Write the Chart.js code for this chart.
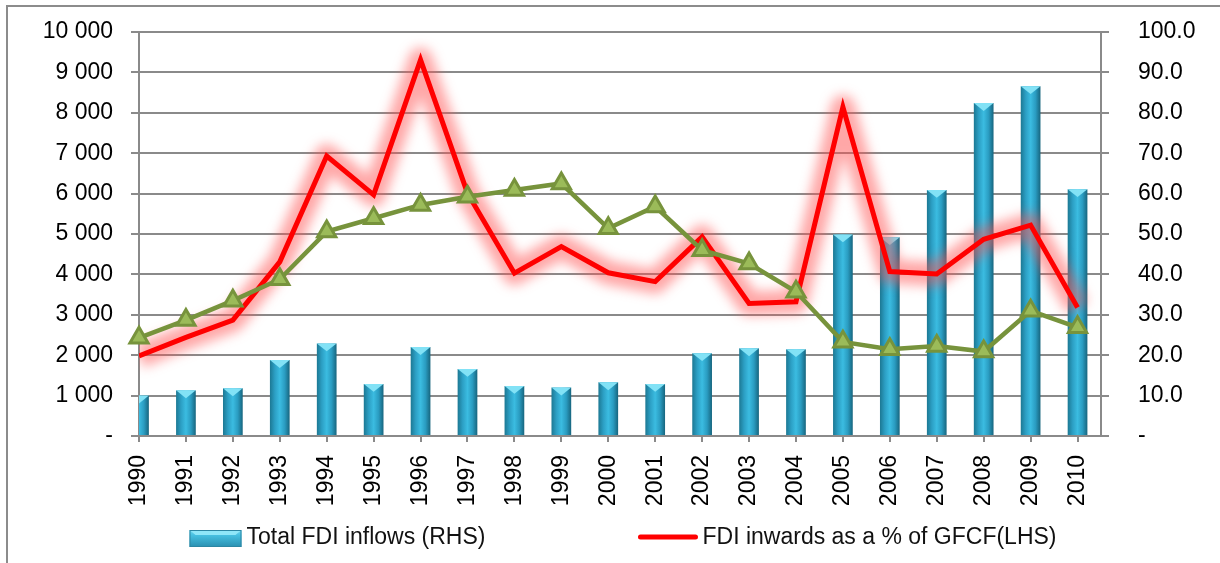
<!DOCTYPE html>
<html>
<head>
<meta charset="utf-8" />
<title>FDI inflows</title>
<script src="https://cdn.jsdelivr.net/npm/chart.js@4.4.1/dist/chart.umd.min.js"></script>
<style>
  html, body { margin: 0; padding: 0; background: #fff; }
  #wrap { width: 1220px; height: 563px; position: relative; }
</style>
</head>
<body>
<div id="wrap"><canvas id="chart"></canvas></div>
<script>
const years = [1990, 1991, 1992, 1993, 1994, 1995, 1996, 1997, 1998, 1999, 2000,
  2001, 2002, 2003, 2004, 2005, 2006, 2007, 2008, 2009, 2010];

// total FDI inflows (left axis)
const fdiInflows = [1000, 1130, 1180, 1880, 2290, 1290, 2200, 1660, 1240, 1200, 1330,
  1290, 2050, 2170, 2150, 4990, 4920, 6090, 8240, 8660, 6110];

// FDI inwards as % of GFCF (right axis)
const fdiShare = [19.8, 24.4, 28.7, 43.1, 69.3, 59.7, 93.1, 60.1, 40.3, 46.9, 40.4,
  38.2, 49.3, 32.8, 33.2, 81.4, 40.7, 40.1, 48.7, 52.2, 31.8];

// unlabelled green series (right axis)
const greenSeries = [24.3, 28.7, 33.5, 38.8, 50.6, 53.9, 57.2, 59.2, 60.9, 62.5, 51.4,
  56.8, 46.0, 42.7, 35.7, 23.3, 21.5, 22.3, 20.9, 31.0, 26.9];

const leftTicks = [0, 1000, 2000, 3000, 4000, 5000, 6000, 7000, 8000, 9000, 10000];
const rightTicks = [0, 10, 20, 30, 40, 50, 60, 70, 80, 90, 100];

const FONT = "'Liberation Sans', Arial, sans-serif";
const BAR_PCT = 0.42;

const pts = arr => years.map((y, i) => ({ x: y, y: arr[i] }));

function barFill(c) {
  if (c.type !== "data") return "#31a9cf";
  const chart = c.chart;
  const xs = chart.scales.x;
  if (!xs || !chart.chartArea) return "#31a9cf";
  const cx = xs.getPixelForValue(c.raw.x);
  const w = (xs.getPixelForValue(years[1]) - xs.getPixelForValue(years[0])) * BAR_PCT;
  const g = chart.ctx.createLinearGradient(cx - w / 2, 0, cx + w / 2, 0);
  g.addColorStop(0, "#1c7893");
  g.addColorStop(0.25, "#2c9fc4");
  g.addColorStop(0.5, "#3bbce1");
  g.addColorStop(0.75, "#2a9cc1");
  g.addColorStop(1, "#17657e");
  return g;
}

function thousands(v) {
  if (v === 0) return "-";
  return String(v).replace(/\B(?=(\d{3})+(?!\d))/g, " ");
}

// keep the tick padding from pushing the plot area down
function fixVertical(width) {
  return s => {
    s.width = width;
    s.paddingTop = 0;
    s.paddingBottom = 0;
  };
}

// glow under the red line + bevel triangle on top of each bar
const effects = {
  id: "effects",
  beforeDatasetDraw(chart, args) {
    if (chart.data.datasets[args.index].isGlow) {
      chart.ctx.save();
      chart.ctx.filter = "blur(6px)";
    }
  },
  afterDatasetDraw(chart, args) {
    const ds = chart.data.datasets[args.index];
    if (ds.isGlow) {
      chart.ctx.restore();
      return;
    }
    if (ds.type === "bar") {
      const ctx = chart.ctx;
      const a = chart.chartArea;
      ctx.save();
      ctx.beginPath();
      ctx.rect(a.left, a.top, a.right - a.left, a.bottom - a.top);
      ctx.clip();
      args.meta.data.forEach(bar => {
        const p = bar.getProps(["x", "y", "width"], true);
        const h = Math.min(8, p.width * 0.4);
        ctx.beginPath();
        ctx.moveTo(p.x - p.width / 2, p.y);
        ctx.lineTo(p.x + p.width / 2, p.y);
        ctx.lineTo(p.x, p.y + h);
        ctx.closePath();
        ctx.fillStyle = "#82e2f6";
        ctx.fill();
      });
      ctx.restore();
    }
  }
};

const legendAndFrame = {
  id: "legendAndFrame",
  afterDraw(chart) {
    const ctx = chart.ctx;
    const a = chart.chartArea;
    ctx.save();
    // outer frame (only top and left edges fall inside the picture)
    ctx.strokeStyle = "#8c8c8c";
    ctx.lineWidth = 2;
    ctx.beginPath();
    ctx.moveTo(7, chart.height + 2);
    ctx.lineTo(7, 6);
    ctx.lineTo(chart.width + 2, 6);
    ctx.stroke();

    const t1 = chart.data.datasets[0].label;
    const t2 = chart.data.datasets[2].label;
    ctx.font = "23px " + FONT;
    const w1 = ctx.measureText(t1).width;
    const w2 = ctx.measureText(t2).width;
    const total = 52 + 5 + w1 + 153 + 57 + 7 + w2;
    let x = (a.left + a.right) / 2 - total / 2 + 3;
    const y = 538;

    // bar icon
    const g = ctx.createLinearGradient(0, y - 9, 0, y + 9);
    g.addColorStop(0, "#7cdcf3");
    g.addColorStop(0.35, "#46bfe0");
    g.addColorStop(1, "#2a8fb0");
    ctx.fillStyle = g;
    ctx.fillRect(x, y - 8, 52, 17);
    ctx.fillStyle = "#8fe6f8";
    ctx.beginPath();
    ctx.moveTo(x, y - 8);
    ctx.lineTo(x + 52, y - 8);
    ctx.lineTo(x + 46, y - 3);
    ctx.lineTo(x + 6, y - 3);
    ctx.closePath();
    ctx.fill();
    ctx.strokeStyle = "#2c86a3";
    ctx.lineWidth = 1;
    ctx.strokeRect(x + 0.5, y - 7.5, 51, 16);
    x += 57;
    ctx.fillStyle = "#111";
    ctx.textBaseline = "middle";
    ctx.textAlign = "left";
    ctx.fillText(t1, x, y);
    x += w1 + 153;

    // red line icon
    ctx.strokeStyle = "#ff0000";
    ctx.lineWidth = 5;
    ctx.lineCap = "round";
    ctx.beginPath();
    ctx.moveTo(x + 2, y - 1);
    ctx.lineTo(x + 57, y - 1);
    ctx.stroke();
    x += 64;
    ctx.fillText(t2, x, y);
    ctx.restore();
  }
};

new Chart(document.getElementById("chart"), {
  type: "bar",
  data: {
    datasets: [
      {
        type: "bar",
        label: "Total FDI inflows (RHS)",
        data: pts(fdiInflows),
        yAxisID: "y",
        backgroundColor: barFill,
        borderWidth: 0,
        categoryPercentage: 1,
        barPercentage: BAR_PCT,
        order: 4
      },
      {
        type: "line",
        label: "glow",
        isGlow: true,
        data: pts(fdiShare),
        yAxisID: "y1",
        borderColor: "rgba(255, 80, 80, 0.5)",
        borderWidth: 24,
        borderJoinStyle: "round",
        pointRadius: 0,
        tension: 0,
        order: 3
      },
      {
        type: "line",
        label: "FDI inwards as a % of GFCF(LHS)",
        data: pts(fdiShare),
        yAxisID: "y1",
        borderColor: "#ff0000",
        borderWidth: 5,
        borderJoinStyle: "miter",
        pointRadius: 0,
        tension: 0,
        order: 2
      },
      {
        type: "line",
        label: "series 3",
        data: pts(greenSeries),
        yAxisID: "y1",
        borderColor: "#77933c",
        borderWidth: 4.5,
        pointStyle: "triangle",
        pointRadius: 10.5,
        pointBackgroundColor: "#9bbb59",
        pointBorderColor: "#77933c",
        pointBorderWidth: 3,
        tension: 0,
        clip: false,
        order: 1
      }
    ]
  },
  options: {
    responsive: true,
    maintainAspectRatio: false,
    animation: false,
    layout: { padding: { top: 32, left: 0, right: 0, bottom: 47 } },
    plugins: {
      legend: { display: false },
      tooltip: { enabled: false }
    },
    scales: {
      x: {
        type: "linear",
        min: years[0],
        max: years[years.length - 1] + 0.5,
        offset: false,
        afterBuildTicks: s => { s.ticks = years.map(v => ({ value: v })); },
        afterFit: s => { s.height = 80; },
        grid: { drawOnChartArea: false, offset: false, tickLength: 6, color: "#8a8a8a", lineWidth: 2 },
        border: { display: false },
        ticks: {
          autoSkip: false,
          minRotation: 90,
          maxRotation: 90,
          padding: 13,
          color: "#000",
          font: { family: FONT, size: 23 },
          callback: v => String(v)
        }
      },
      y: {
        position: "left",
        min: 0,
        max: 10000,
        afterBuildTicks: s => { s.ticks = leftTicks.map(v => ({ value: v })); },
        afterFit: fixVertical(139),
        grid: { color: "#8a8a8a", lineWidth: 2, tickLength: 8 },
        border: { display: true, color: "#8a8a8a", width: 2 },
        ticks: {
          padding: 18,
          color: "#000",
          font: { family: FONT, size: 23 },
          callback: v => thousands(v)
        }
      },
      y1: {
        position: "right",
        min: 0,
        max: 100,
        afterBuildTicks: s => { s.ticks = rightTicks.map(v => ({ value: v })); },
        afterFit: fixVertical(119),
        grid: { drawOnChartArea: false, color: "#8a8a8a", lineWidth: 2, tickLength: 8 },
        border: { display: true, color: "#8a8a8a", width: 2 },
        ticks: {
          padding: 29,
          color: "#000",
          font: { family: FONT, size: 23 },
          callback: v => (v === 0 ? "-" : v.toFixed(1))
        }
      }
    }
  },
  plugins: [effects, legendAndFrame]
});
</script>
</body>
</html>
